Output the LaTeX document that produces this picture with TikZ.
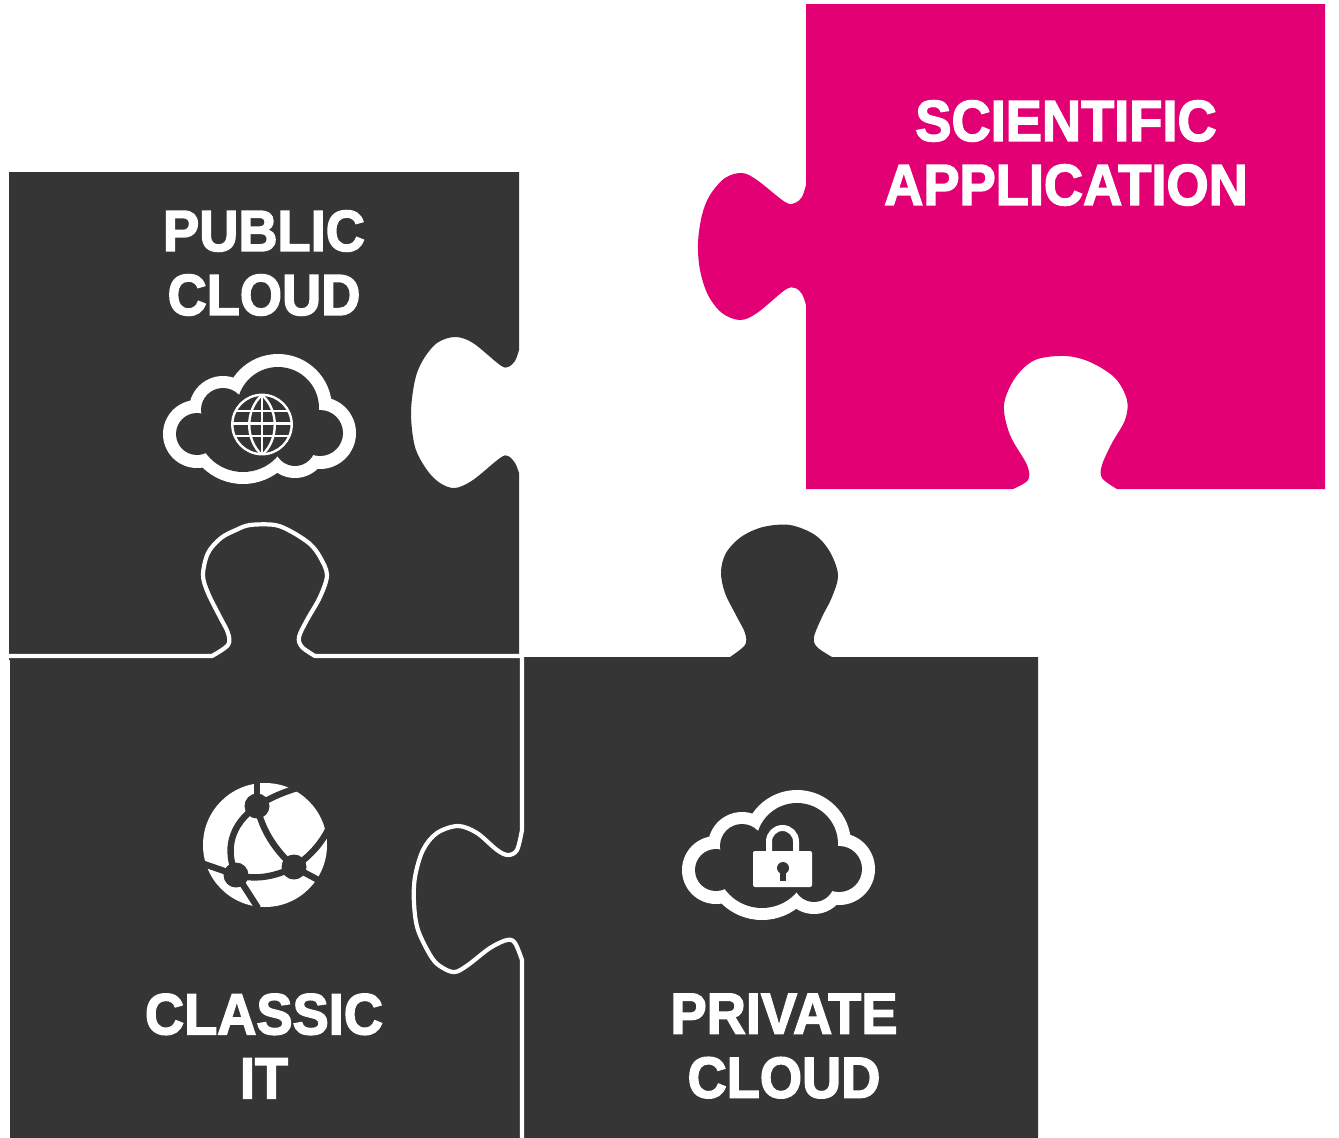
\documentclass[tikz,border=0pt]{standalone}
\usepackage{fontspec}
\setmainfont{Liberation Sans}
\newfontfamily\labelfont[FakeBold=2.6]{Liberation Sans Bold}
\definecolor{piecedark}{HTML}{353535}
\definecolor{piecepink}{HTML}{E20074}
\tikzset{
  label text/.style={text=white,align=center,font=\labelfont\fontsize{58}{64}\selectfont,xscale=.935,inner sep=0pt},
  joint/.style={draw=white,line width=4.2pt,line join=round},
  curve/.style={smooth,tension=.55},
  netline/.style={draw=piecedark,line width=6.4pt},
  gridline/.style={draw=white,line width=2.4pt},
}
\newcommand{\cloudshape}[2]{%
 \begin{scope}[shift={(#1,#2)}]
  \foreach \cx/\cy/\cr in {278/408/54,223/410/34,197/434/34,320/433/36,295/445.5/32.5}{\fill[white] (\cx,\cy) circle (\cr);}
  \begin{scope}
   \clip (150,432) rectangle (340,500);
   \fill[white] (243,426) circle (58);
  \end{scope}
  \foreach \cx/\cy/\cr in {278/408/41,223/410/22,197/434/21,320/433/23,295/445.5/20.5}{\fill[piecedark] (\cx,\cy) circle (\cr);}
  \begin{scope}
   \clip (150,432) rectangle (340,500);
   \fill[piecedark] (243,426) circle (46);
  \end{scope}
  \fill[piecedark] (200,420) rectangle (318,445);
 \end{scope}}
\begin{document}
\begin{tikzpicture}[x=1pt,y=-1pt]
\useasboundingbox (0,0) rectangle (1339,1138);
\fill[white] (0,0) rectangle (1339,1138);
% pink piece
\fill[piecepink] (806,4) -- (1325,4) -- (1325,489) -- (1117,489)
 -- plot[curve] coordinates {(1117,489) (1102,478) (1102,465) (1112,443) (1125,420) (1127,400) (1115,378) (1090,362) (1065,356) (1035,360) (1015,378) (1004,405) (1010,435) (1027,465) (1028,480) (1013,489)}
 -- (806,489) -- (806,305)
 -- plot[curve] coordinates {(806,305) (802,294) (795,288) (785,290) (757,313) (740,320) (722,313) (708,295) (700,270) (698,243) (702,215) (710,195) (725,178) (742,173) (757,180) (785,202) (795,203) (802,197) (806,185)}
 -- cycle;
% public cloud piece
\fill[piecedark] (9,172) -- (519,172) -- (519,350)
 -- plot[curve] coordinates {(519,350) (515,361) (508,367) (500,365) (473,343) (455,337) (437,343) (423,360) (415,380) (411,413) (415,447) (427,470) (440,483) (455,488) (473,480) (500,458) (508,456) (515,463) (519,473)}
 -- (519,660) -- (9,660) -- cycle;
% private cloud piece
\fill[piecedark] (522,657) -- (730,657)
 -- plot[curve] coordinates {(730,657) (745,645) (745,633) (737,617) (725,593) (721,572) (726,553) (741,537) (763,527) (790,525) (815,535) (830,552) (838,575) (832,597) (822,617) (814,637) (817,647) (832,657)}
 -- (1038,657) -- (1038,1138) -- (522,1138) -- cycle;
% classic IT piece
\fill[piecedark] (10,656) -- (212,656)
 -- plot[curve] coordinates {(212,656) (228,645) (228,633) (220,617) (208,593) (203,575) (208,553) (221,538) (236,530) (250,525) (275,525) (292,532) (310,544) (320,557) (327,575) (320,597) (307,620) (299,637) (302,647) (315,656)}
 -- (522,656) -- (522,1138) -- (10,1138) -- cycle;
\draw[joint] (9,656) -- (212,656)
 -- plot[curve] coordinates {(212,656) (228,645) (228,633) (220,617) (208,593) (203,575) (208,553) (221,538) (236,530) (250,525) (275,525) (292,532) (310,544) (320,557) (327,575) (320,597) (307,620) (299,637) (302,647) (315,656)}
 -- (522,656) -- (522,830)
 -- plot[curve] coordinates {(522,830) (517,850) (508,855) (497,850) (477,833) (458,826) (437,833) (423,850) (415,877) (414,903) (418,930) (432,958) (443,968) (455,972) (468,965) (490,948) (507,940) (515,943) (522,960)}
 -- (522,1138);
% clouds
\cloudshape{0}{0}
\cloudshape{519}{436}
% world globe
\begin{scope}
 \draw[gridline] (262,424.5) circle (29.7);
 \clip (262,424.5) circle (29.7);
 \draw[gridline] (262,390) -- (262,458);
 \draw[gridline] (230,411) -- (294,411) (230,423.5) -- (294,423.5) (230,436) -- (294,436);
 \draw[gridline] (262,395) .. controls (245,410) and (245,440) .. (262,455);
 \draw[gridline] (262,395) .. controls (279,410) and (279,440) .. (262,455);
\end{scope}
% padlock
\draw[white,line width=6pt] (769,856) -- (769,841.5) arc (180:360:13.5) -- (796,856);
\fill[white,rounded corners=2pt] (753,851) rectangle (812,887);
\fill[piecedark] (783,868) circle (6);
\fill[piecedark] (780,868) -- (786,868) -- (786,881) -- (780,881) -- cycle;
% network globe
\fill[white] (265,845) circle (62);
\begin{scope}
 \clip (265,845) circle (63);
 \draw[netline] (257,806) -- (257,775);
 \draw[netline] (257,806) .. controls (275,795) and (285,792) .. (300,787);
 \draw[netline] (257,806) .. controls (262,830) and (275,850) .. (294,867);
 \draw[netline] (257,806) .. controls (230,825) and (225,850) .. (236,875);
 \draw[netline] (236,875) .. controls (255,880) and (275,877) .. (294,867);
 \draw[netline] (236,875) -- (204,864);
 \draw[netline] (236,875) -- (240,880) -- (258,908);
 \draw[netline] (294,867) .. controls (312,855) and (322,842) .. (329,828);
 \draw[netline] (294,867) -- (322,882);
 \fill[piecedark] (257,806) circle (12.5) (294,867) circle (12.5) (236,875) circle (12.5);
\end{scope}
% labels
\node[label text] (pub) at (264,263) {PUBLIC\\CLOUD};
\node[label text] (sci) at (1066,153) {SCIENTIFIC\\APPLICATION};
\node[label text] (cla) at (264,1046) {CLASSIC\\IT};
\node[label text] (pri) at (784,1046) {PRIVATE\\CLOUD};
\end{tikzpicture}
\end{document}
